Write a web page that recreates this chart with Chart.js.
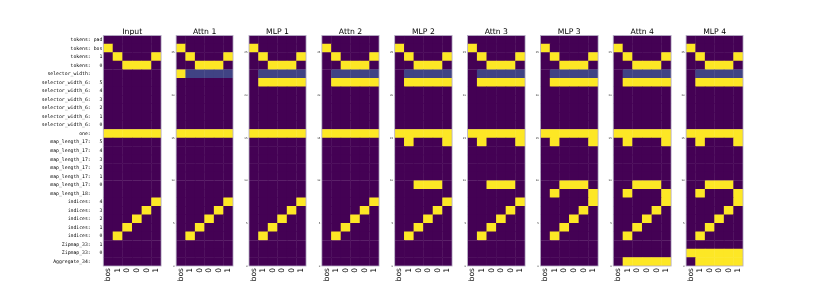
<!DOCTYPE html>
<html>
<head>
<meta charset="utf-8">
<script src="https://cdn.jsdelivr.net/npm/chart.js@4.4.1/dist/chart.umd.min.js"></script>
<style>
  html, body { margin: 0; padding: 0; background: #fff; }
  #wrap { position: relative; width: 830px; height: 299px; overflow: hidden; }
  #wrap canvas { position: absolute; top: 0; }
</style>
</head>
<body>
<div id="wrap"></div>
<script>
// ======================
// DATA
// ======================
const panelTitles = ["Input", "Attn 1", "MLP 1", "Attn 2", "MLP 2", "Attn 3", "MLP 3", "Attn 4", "MLP 4"];
const tokenLabels = ["bos", "1", "0", "0", "0", "1"];
const rowNames = [
  "tokens", "tokens", "tokens", "tokens",
  "selector_width",
  "selector_width_6", "selector_width_6", "selector_width_6", "selector_width_6", "selector_width_6", "selector_width_6",
  "one",
  "map_length_17", "map_length_17", "map_length_17", "map_length_17", "map_length_17", "map_length_17",
  "map_length_18",
  "indices", "indices", "indices", "indices", "indices",
  "Zipmap_33", "Zipmap_33",
  "Aggregate_34"
];
const rowValues = [
  "pad", "bos", "1", "0",
  "",
  "5", "4", "3", "2", "1", "0",
  "",
  "5", "4", "3", "2", "1", "0",
  "",
  "4", "3", "2", "1", "0",
  "1", "0",
  ""
];
const yTickValues = [0, 5, 10, 15, 20, 25];

// one row per feature (top first), one entry per token
const inputCells = [
  [0,0,0,0,0,0], [1,0,0,0,0,0], [0,1,0,0,0,1], [0,0,1,1,1,0],
  [0,0,0,0,0,0],
  [0,0,0,0,0,0], [0,0,0,0,0,0], [0,0,0,0,0,0], [0,0,0,0,0,0], [0,0,0,0,0,0], [0,0,0,0,0,0],
  [1,1,1,1,1,1],
  [0,0,0,0,0,0], [0,0,0,0,0,0], [0,0,0,0,0,0], [0,0,0,0,0,0], [0,0,0,0,0,0], [0,0,0,0,0,0],
  [0,0,0,0,0,0],
  [0,0,0,0,0,1], [0,0,0,0,1,0], [0,0,0,1,0,0], [0,0,1,0,0,0], [0,1,0,0,0,0],
  [0,0,0,0,0,0], [0,0,0,0,0,0],
  [0,0,0,0,0,0]
];
const attn1Cells = [
  [0,0,0,0,0,0], [1,0,0,0,0,0], [0,1,0,0,0,1], [0,0,1,1,1,0],
  [1,0.2,0.2,0.2,0.2,0.2],
  [0,0,0,0,0,0], [0,0,0,0,0,0], [0,0,0,0,0,0], [0,0,0,0,0,0], [0,0,0,0,0,0], [0,0,0,0,0,0],
  [1,1,1,1,1,1],
  [0,0,0,0,0,0], [0,0,0,0,0,0], [0,0,0,0,0,0], [0,0,0,0,0,0], [0,0,0,0,0,0], [0,0,0,0,0,0],
  [0,0,0,0,0,0],
  [0,0,0,0,0,1], [0,0,0,0,1,0], [0,0,0,1,0,0], [0,0,1,0,0,0], [0,1,0,0,0,0],
  [0,0,0,0,0,0], [0,0,0,0,0,0],
  [0,0,0,0,0,0]
];
const mlp1Cells = [
  [0,0,0,0,0,0], [1,0,0,0,0,0], [0,1,0,0,0,1], [0,0,1,1,1,0],
  [0,0.2,0.2,0.2,0.2,0.2],
  [0,1,1,1,1,1], [0,0,0,0,0,0], [0,0,0,0,0,0], [0,0,0,0,0,0], [0,0,0,0,0,0], [0,0,0,0,0,0],
  [1,1,1,1,1,1],
  [0,0,0,0,0,0], [0,0,0,0,0,0], [0,0,0,0,0,0], [0,0,0,0,0,0], [0,0,0,0,0,0], [0,0,0,0,0,0],
  [0,0,0,0,0,0],
  [0,0,0,0,0,1], [0,0,0,0,1,0], [0,0,0,1,0,0], [0,0,1,0,0,0], [0,1,0,0,0,0],
  [0,0,0,0,0,0], [0,0,0,0,0,0],
  [0,0,0,0,0,0]
];
const attn2Cells = [
  [0,0,0,0,0,0], [1,0,0,0,0,0], [0,1,0,0,0,1], [0,0,1,1,1,0],
  [0,0.2,0.2,0.2,0.2,0.2],
  [0,1,1,1,1,1], [0,0,0,0,0,0], [0,0,0,0,0,0], [0,0,0,0,0,0], [0,0,0,0,0,0], [0,0,0,0,0,0],
  [1,1,1,1,1,1],
  [0,0,0,0,0,0], [0,0,0,0,0,0], [0,0,0,0,0,0], [0,0,0,0,0,0], [0,0,0,0,0,0], [0,0,0,0,0,0],
  [0,0,0,0,0,0],
  [0,0,0,0,0,1], [0,0,0,0,1,0], [0,0,0,1,0,0], [0,0,1,0,0,0], [0,1,0,0,0,0],
  [0,0,0,0,0,0], [0,0,0,0,0,0],
  [0,0,0,0,0,0]
];
const mlp2Cells = [
  [0,0,0,0,0,0], [1,0,0,0,0,0], [0,1,0,0,0,1], [0,0,1,1,1,0],
  [0,0.2,0.2,0.2,0.2,0.2],
  [0,1,1,1,1,1], [0,0,0,0,0,0], [0,0,0,0,0,0], [0,0,0,0,0,0], [0,0,0,0,0,0], [0,0,0,0,0,0],
  [1,1,1,1,1,1],
  [0,1,0,0,0,1], [0,0,0,0,0,0], [0,0,0,0,0,0], [0,0,0,0,0,0], [0,0,0,0,0,0], [0,0,1,1,1,0],
  [0,0,0,0,0,0],
  [0,0,0,0,0,1], [0,0,0,0,1,0], [0,0,0,1,0,0], [0,0,1,0,0,0], [0,1,0,0,0,0],
  [0,0,0,0,0,0], [0,0,0,0,0,0],
  [0,0,0,0,0,0]
];
const attn3Cells = [
  [0,0,0,0,0,0], [1,0,0,0,0,0], [0,1,0,0,0,1], [0,0,1,1,1,0],
  [0,0.2,0.2,0.2,0.2,0.2],
  [0,1,1,1,1,1], [0,0,0,0,0,0], [0,0,0,0,0,0], [0,0,0,0,0,0], [0,0,0,0,0,0], [0,0,0,0,0,0],
  [1,1,1,1,1,1],
  [0,1,0,0,0,1], [0,0,0,0,0,0], [0,0,0,0,0,0], [0,0,0,0,0,0], [0,0,0,0,0,0], [0,0,1,1,1,0],
  [0,0,0,0,0,0],
  [0,0,0,0,0,1], [0,0,0,0,1,0], [0,0,0,1,0,0], [0,0,1,0,0,0], [0,1,0,0,0,0],
  [0,0,0,0,0,0], [0,0,0,0,0,0],
  [0,0,0,0,0,0]
];
const mlp3Cells = [
  [0,0,0,0,0,0], [1,0,0,0,0,0], [0,1,0,0,0,1], [0,0,1,1,1,0],
  [0,0.2,0.2,0.2,0.2,0.2],
  [0,1,1,1,1,1], [0,0,0,0,0,0], [0,0,0,0,0,0], [0,0,0,0,0,0], [0,0,0,0,0,0], [0,0,0,0,0,0],
  [1,1,1,1,1,1],
  [0,1,0,0,0,1], [0,0,0,0,0,0], [0,0,0,0,0,0], [0,0,0,0,0,0], [0,0,0,0,0,0], [0,0,1,1,1,0],
  [0,1,0,0,0,1],
  [0,0,0,0,0,1], [0,0,0,0,1,0], [0,0,0,1,0,0], [0,0,1,0,0,0], [0,1,0,0,0,0],
  [0,0,0,0,0,0], [0,0,0,0,0,0],
  [0,0,0,0,0,0]
];
const attn4Cells = [
  [0,0,0,0,0,0], [1,0,0,0,0,0], [0,1,0,0,0,1], [0,0,1,1,1,0],
  [0,0.2,0.2,0.2,0.2,0.2],
  [0,1,1,1,1,1], [0,0,0,0,0,0], [0,0,0,0,0,0], [0,0,0,0,0,0], [0,0,0,0,0,0], [0,0,0,0,0,0],
  [1,1,1,1,1,1],
  [0,1,0,0,0,1], [0,0,0,0,0,0], [0,0,0,0,0,0], [0,0,0,0,0,0], [0,0,0,0,0,0], [0,0,1,1,1,0],
  [0,1,0,0,0,1],
  [0,0,0,0,0,1], [0,0,0,0,1,0], [0,0,0,1,0,0], [0,0,1,0,0,0], [0,1,0,0,0,0],
  [0,0,0,0,0,0], [0,0,0,0,0,0],
  [0,1,1,1,1,1]
];
const mlp4Cells = [
  [0,0,0,0,0,0], [1,0,0,0,0,0], [0,1,0,0,0,1], [0,0,1,1,1,0],
  [0,0.2,0.2,0.2,0.2,0.2],
  [0,1,1,1,1,1], [0,0,0,0,0,0], [0,0,0,0,0,0], [0,0,0,0,0,0], [0,0,0,0,0,0], [0,0,0,0,0,0],
  [1,1,1,1,1,1],
  [0,1,0,0,0,1], [0,0,0,0,0,0], [0,0,0,0,0,0], [0,0,0,0,0,0], [0,0,0,0,0,0], [0,0,1,1,1,0],
  [0,1,0,0,0,1],
  [0,0,0,0,0,1], [0,0,0,0,1,0], [0,0,0,1,0,0], [0,0,1,0,0,0], [0,1,0,0,0,0],
  [0,0,0,0,0,0], [1,1,1,1,1,1],
  [0,1,1,1,1,1]
];
const panelCells = [inputCells, attn1Cells, mlp1Cells, attn2Cells, mlp2Cells, attn3Cells, mlp3Cells, attn4Cells, mlp4Cells];

// ======================
// LAYOUT / STYLE
// ======================
const PANEL_X0 = 103.3, PANEL_STEP = 72.85, PANEL_W = 60.8;
const PLOT_TOP = 35.45, PLOT_BOTTOM = 266, H = 299;
const TITLE_SIZE = 7.7;

// viridis stops
const VIRIDIS = [[0, [68, 1, 84]], [0.125, [71, 44, 122]], [0.25, [59, 82, 139]], [0.5, [33, 145, 140]], [0.75, [94, 201, 98]], [1, [253, 231, 37]]];
function viridis(v) {
  for (let i = 1; i < VIRIDIS.length; i++) {
    const [t0, c0] = VIRIDIS[i - 1], [t1, c1] = VIRIDIS[i];
    if (v <= t1) {
      const f = (v - t0) / (t1 - t0);
      const c = c0.map((a, k) => Math.round(a + (c1[k] - a) * f));
      return `rgb(${c[0]},${c[1]},${c[2]})`;
    }
  }
  return "rgb(253,231,37)";
}

const rowLabel = (r) => rowNames[r] + ": " + rowValues[r].padStart(3);
const nRows = rowNames.length;

const framePlugin = {
  id: "frame",
  afterDatasetsDraw(chart) {
    const a = chart.chartArea, ctx = chart.ctx;
    ctx.save();
    ctx.strokeStyle = "#b3abc2";
    ctx.lineWidth = 0.8;
    ctx.strokeRect(a.left, a.top, a.right - a.left, a.bottom - a.top);
    ctx.restore();
  }
};

// ======================
// CHARTS
// ======================
const wrap = document.getElementById("wrap");
panelTitles.forEach((title, i) => {
  const L = PANEL_X0 + i * PANEL_STEP, R = L + PANEL_W;
  const cl = i === 0 ? 0 : Math.floor(L) - 12;
  const cw = Math.ceil(R) + 3 - cl;
  const yw = L - cl, padR = cl + cw - R;

  const canvas = document.createElement("canvas");
  canvas.width = cw; canvas.height = H;
  canvas.style.left = cl + "px";
  wrap.appendChild(canvas);

  const cells = [];
  panelCells[i].forEach((row, r) => {
    row.forEach((v, c) => cells.push({ x: c, y: [nRows - 1 - r, nRows - r], v }));
  });

  const firstPanel = i === 0;
  new Chart(canvas, {
    type: "bar",
    data: { datasets: [{ data: cells, backgroundColor: (ctx) => viridis(ctx.raw.v), borderWidth: 0, inflateAmount: 0.22, barPercentage: 1, categoryPercentage: 1 }] },
    plugins: [framePlugin],
    options: {
      responsive: false, animation: false, events: [],
      layout: { padding: { top: PLOT_TOP - TITLE_SIZE, left: 0, right: padR, bottom: 0 } },
      plugins: {
        legend: { display: false }, tooltip: { enabled: false },
        title: { display: true, text: title, fullSize: false, color: "#000", padding: { top: 0, bottom: 0 },
                 font: { family: "DejaVu Sans", size: TITLE_SIZE, weight: "normal", lineHeight: 1 } }
      },
      scales: {
        x: {
          type: "linear", min: -0.5, max: 5.5, offset: false,
          afterBuildTicks: (s) => { s.ticks = tokenLabels.map((_, c) => ({ value: c })); },
          afterFit: (s) => { s.height = H - PLOT_BOTTOM; },
          ticks: { autoSkip: false, minRotation: 90, maxRotation: 90, padding: 2, color: "#000",
                   font: { family: "DejaVu Sans", size: 7.6 }, callback: (v, idx) => tokenLabels[idx] },
          grid: { display: false, drawTicks: false, offset: false }, border: { display: false }
        },
        y: {
          type: "linear", min: 0, max: nRows,
          afterBuildTicks: (s) => {
            s.ticks = firstPanel ? rowNames.map((_, r) => ({ value: nRows - 0.5 - r })) : yTickValues.map((v) => ({ value: v }));
          },
          afterFit: (s) => { s.width = yw; },
          ticks: firstPanel
            ? { autoSkip: false, padding: 1, color: "#000", font: { family: "DejaVu Sans Mono", size: 4.8 }, callback: (v, idx) => rowLabel(idx) }
            : { autoSkip: false, padding: 1.5, color: "#000", font: { family: "DejaVu Sans", size: 2.5 }, callback: (v) => String(v) },
          grid: { display: false, drawTicks: false }, border: { display: false }
        }
      }
    }
  });
});
</script>
</body>
</html>
